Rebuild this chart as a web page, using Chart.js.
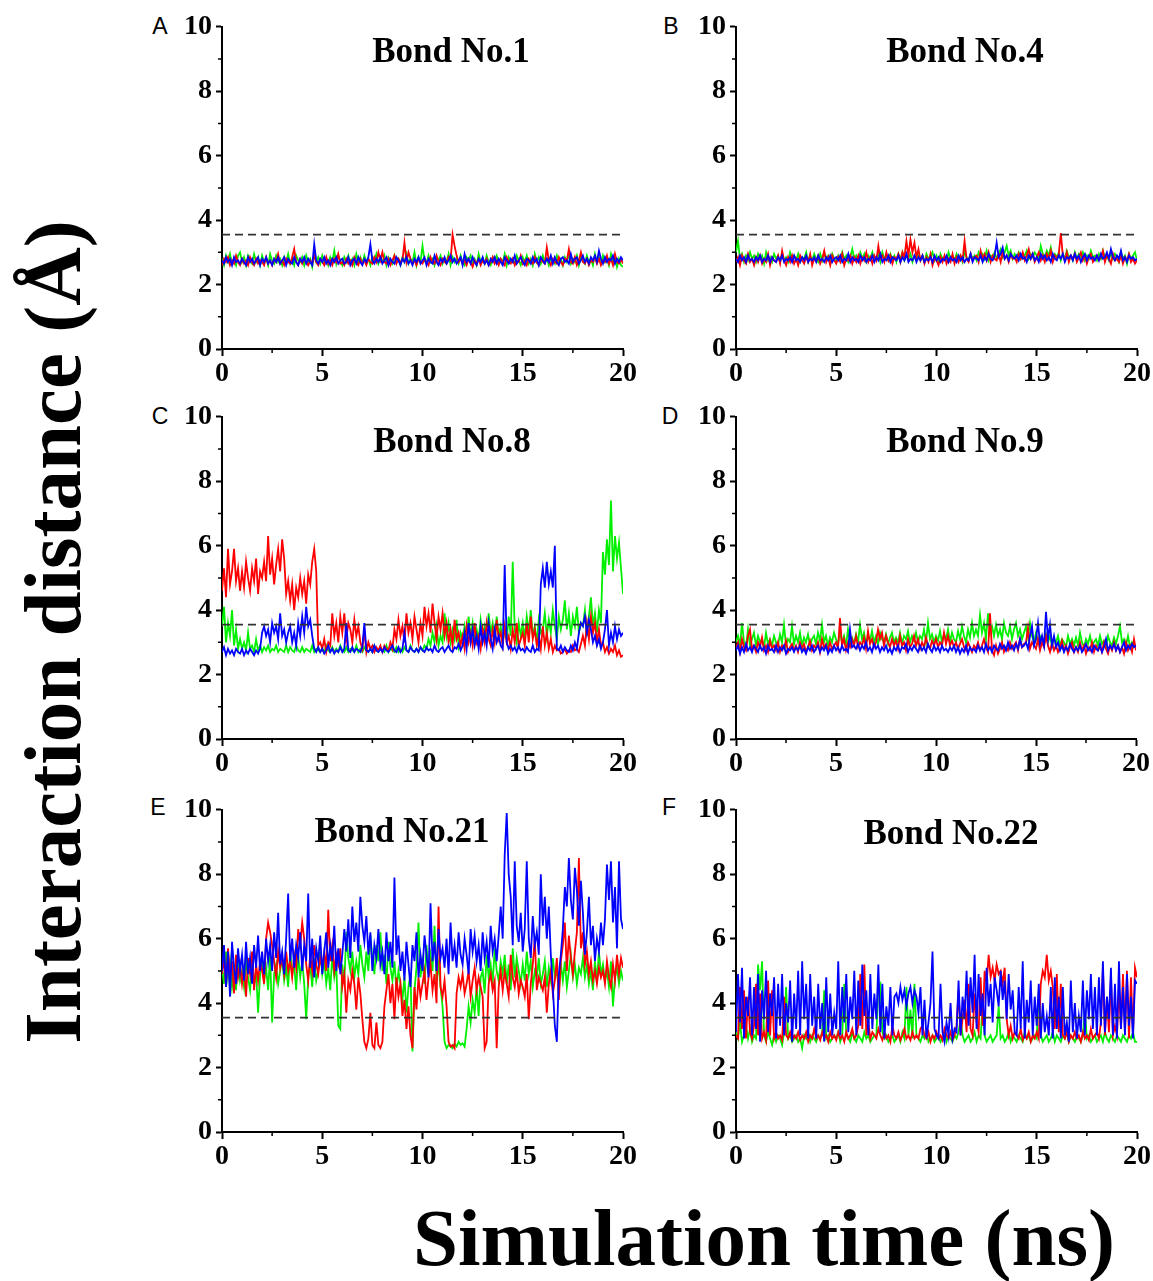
<!DOCTYPE html>
<html><head><meta charset="utf-8">
<script src="https://cdn.jsdelivr.net/npm/chart.js@4.4.1/dist/chart.umd.min.js"></script>
<style>
html,body{margin:0;padding:0;background:#fff;}
body{width:1153px;height:1281px;position:relative;overflow:hidden;}
canvas{position:absolute;}
.letter{position:absolute;font-family:"Liberation Sans",Arial,sans-serif;font-size:23px;line-height:1;transform:translate(-50%,-50%);color:#000;}
.btitle{position:absolute;font-family:"Liberation Serif","Times New Roman",serif;font-weight:bold;font-size:35px;line-height:1;white-space:nowrap;transform:translate(-50%,-50%);color:#000;}
.bigtitle{position:absolute;font-family:"Liberation Serif","Times New Roman",serif;font-weight:bold;font-size:81px;line-height:1;white-space:nowrap;color:#000;}
</style>
</head><body>
<script>
// ---------- data (one value every 0.1 ns, 0–20 ns) ----------
const TIME_MAX_NS = 20;
const THRESHOLD = 3.55;
const X_TICKS = [0, 5, 10, 15, 20];
const X_MINOR = [2.5, 7.5, 12.5, 17.5];
const Y_TICKS = [0, 2, 4, 6, 8, 10];
const Y_MINOR = [1, 3, 5, 7, 9];
const PANEL_LETTERS = ['A', 'B', 'C', 'D', 'E', 'F'];
const PANEL_TITLES = ['Bond No.1', 'Bond No.4', 'Bond No.8', 'Bond No.9', 'Bond No.21', 'Bond No.22'];
const X_TITLE = 'Simulation time (ns)';
const Y_TITLE = 'Interaction distance (Å)';

// Bond No.1
const A_RED = [2.6,2.8,2.7,2.85,2.6,2.75,2.65,2.9,2.7,2.6, 2.8,2.65,2.75,2.6,2.85,2.7,2.6,2.8,2.65,2.75, 2.7,2.6,2.85,2.65,2.75,2.6,2.8,2.7,2.95,2.65, 2.75,2.6,2.8,2.7,2.65,2.85,3.1,2.7,2.6,2.8, 2.65,2.8,2.7,2.6,2.75,2.65,2.9,2.7,2.6,2.8, 2.7,2.6,2.85,2.65,2.75,2.6,2.8,2.7,2.95,2.65, 2.7,2.6,2.8,2.65,2.75,2.6,2.85,2.7,2.6,2.8, 2.65,2.75,2.6,2.8,2.7,2.65,2.85,2.7,3.0,2.75, 3.0,2.7,2.65,2.8,2.6,2.75,2.9,2.65,2.8,2.7, 2.75,3.3,2.7,3.0,2.8,2.65,2.75,2.6,2.8,2.7, 2.65,2.8,2.7,2.6,2.85,2.7,2.65,2.9,2.7,2.6, 2.8,2.7,2.65,2.85,2.75,3.55,3.2,2.9,2.7,2.8, 2.65,2.75,2.6,2.8,2.7,2.55,2.75,2.65,2.8,2.6, 2.75,2.65,2.8,2.6,2.7,2.85,2.65,2.75,2.6,2.8, 2.7,2.6,2.85,2.7,2.65,2.8,2.6,2.75,2.7,2.9, 2.65,2.75,2.6,2.8,2.7,2.65,2.85,2.7,2.6,2.8, 2.7,2.65,3.15,2.75,2.6,2.8,2.7,2.65,2.85,2.7, 2.6,2.8,2.75,3.1,2.7,2.65,2.85,2.6,2.75,3.0, 2.7,2.65,2.8,2.6,2.75,2.7,2.85,2.65,2.8,2.6, 2.75,2.7,2.9,2.65,2.8,2.6,2.95,2.7,2.65,2.8, 2.65];
const A_GREEN = [2.8,2.6,2.9,2.7,2.95,2.65,2.8,2.6,2.9,3.0, 2.7,2.85,2.6,2.9,2.75,2.65,2.95,2.7,2.85,2.6, 2.9,2.7,2.8,2.6,2.95,2.75,2.65,2.9,2.7,2.8, 2.6,2.85,2.7,2.95,2.65,2.8,2.6,2.9,2.75,2.7, 2.85,2.6,2.9,2.7,2.8,2.55,2.95,2.7,2.85,2.65, 2.9,2.7,2.8,2.6,2.85,2.7,3.05,2.65,2.9,2.75, 2.6,2.85,2.7,2.9,2.65,2.8,2.6,2.95,2.7,2.85, 2.65,2.9,2.7,2.8,2.6,2.85,2.75,2.95,2.65,2.8, 2.7,2.9,2.6,2.85,2.75,2.65,2.9,2.7,2.8,2.6, 2.85,2.7,2.95,2.65,2.8,2.7,3.0,2.6,2.85,2.7, 3.2,2.75,2.65,2.9,2.7,2.8,2.6,2.85,2.75,2.9, 2.65,2.8,2.7,2.95,2.6,2.85,2.7,2.8,2.65,2.9, 2.7,2.6,2.85,2.75,2.9,2.65,2.8,2.6,2.95,2.7, 2.8,2.65,2.9,2.7,2.6,2.85,2.75,2.9,2.65,2.8, 2.7,2.95,2.6,2.85,2.7,2.8,2.65,2.9,2.75,2.6, 2.85,2.7,2.9,2.65,2.8,2.6,2.95,2.7,2.85,2.65, 2.9,2.7,2.8,2.6,2.85,2.75,2.65,2.9,2.7,2.8, 2.6,2.85,2.7,2.95,2.65,2.8,2.7,2.9,2.6,2.85, 2.75,2.65,2.9,2.7,2.8,2.6,2.95,2.7,2.85,2.65, 2.9,2.7,2.8,2.6,2.95,2.7,2.85,2.55,2.8,2.6, 2.55];
const A_BLUE = [2.75,2.65,2.85,2.7,2.8,2.6,2.85,2.7,2.75,2.65, 2.8,2.7,2.6,2.85,2.7,2.8,2.65,2.75,2.85,2.6, 2.8,2.7,2.85,2.65,2.75,2.6,2.8,2.7,2.85,2.65, 2.75,2.85,2.6,2.8,2.7,2.65,2.85,2.7,2.6,2.8, 2.7,2.85,2.65,2.8,2.7,2.6,3.25,2.75,2.65,2.8, 2.7,2.85,2.65,2.75,2.6,2.8,2.7,2.85,2.65,2.75, 2.8,2.65,2.7,2.85,2.6,2.75,2.8,2.65,2.85,2.7, 2.6,2.8,2.7,2.85,3.25,2.75,2.65,2.8,2.7,2.85, 2.65,2.75,2.85,2.6,2.8,2.7,2.65,2.85,2.75,2.6, 2.8,2.7,2.85,2.65,2.75,2.6,2.8,2.7,2.85,2.65, 2.75,2.85,2.6,2.8,2.7,2.65,2.9,2.7,2.6,2.8, 2.7,2.85,2.65,2.75,2.9,2.7,2.8,2.65,2.75,2.85, 2.6,2.95,2.7,2.8,2.65,2.85,2.7,2.6,2.8,2.7, 2.85,2.65,2.75,2.6,2.8,2.7,2.85,2.65,2.8,2.7, 2.6,2.85,2.75,2.65,2.8,2.7,2.9,2.65,2.75,2.85, 2.7,2.6,2.8,2.75,2.65,2.85,2.7,2.8,2.6,2.85, 2.75,2.65,2.8,2.7,2.9,2.65,2.85,2.7,2.6,2.8, 2.85,2.7,2.75,2.65,2.95,2.7,2.8,2.85,2.65,2.75, 2.9,2.7,2.8,2.65,2.85,2.75,2.9,2.7,3.05,2.8, 2.65,2.85,2.7,2.8,2.75,2.9,2.65,2.8,2.7,2.85, 2.75];

// Bond No.4
const B_RED = [2.7,2.85,2.6,2.9,2.75,2.65,2.95,2.7,2.8,2.6, 2.85,2.7,2.9,2.65,2.8,2.7,2.95,2.6,2.85,2.75, 2.7,2.9,2.65,3.05,2.75,2.6,2.85,2.7,2.9,2.65, 2.8,2.6,2.9,2.75,2.65,2.85,2.7,2.95,2.6,2.8, 2.75,2.9,2.65,2.8,3.05,2.7,2.85,2.6,2.9,2.75, 2.65,2.85,2.7,2.95,2.6,2.8,2.75,2.9,2.65,2.85, 2.7,2.9,2.65,2.85,2.75,3.0,2.7,2.85,2.65,2.9, 2.75,3.2,2.8,2.9,2.7,3.0,2.75,2.9,2.65,2.85, 2.8,2.95,2.7,3.0,2.85,3.35,2.9,3.4,3.0,3.3, 2.85,3.1,2.75,2.9,2.65,2.85,2.7,2.95,2.6,2.8, 2.75,2.6,2.85,2.7,2.9,2.65,2.8,2.7,2.95,2.65, 2.85,2.7,2.9,2.75,3.35,2.8,2.7,2.95,2.75,2.85, 2.9,2.7,3.05,2.8,2.95,2.75,3.0,2.7,2.9,2.8, 2.75,2.95,2.7,3.0,2.8,2.9,2.7,2.95,2.8,2.85, 2.7,2.95,2.8,3.0,2.75,2.9,3.1,2.8,2.95,2.7, 2.85,3.0,2.75,2.9,2.7,2.95,2.8,3.05,2.7,2.9, 2.8,2.95,3.6,2.9,2.75,3.0,2.7,2.9,2.8,2.95, 2.7,2.85,3.0,2.75,2.9,2.65,2.85,2.95,2.7,2.8, 2.9,2.75,2.85,3.05,2.7,2.9,2.8,2.65,2.95,2.75, 2.8,2.7,2.9,2.65,2.85,2.75,2.95,2.7,2.8,2.65, 2.75];
const B_GREEN = [3.0,3.35,2.8,2.95,2.7,2.9,2.75,3.0,2.8,2.9, 2.7,2.95,2.8,2.9,2.65,3.0,2.75,2.85,2.7,2.95, 2.8,2.9,2.7,2.95,2.75,2.85,2.7,3.0,2.8,2.9, 2.75,2.95,2.7,2.85,2.8,3.0,2.7,2.9,2.75,2.95, 2.8,2.7,2.95,2.75,3.0,2.8,2.9,2.7,2.95,2.8, 2.7,2.9,2.75,3.0,2.8,2.9,2.7,2.85,3.1,2.8, 2.9,2.75,3.0,2.8,2.95,2.7,2.9,2.8,3.0,2.75, 2.85,2.95,2.7,3.0,2.8,2.9,2.75,2.95,2.8,2.9, 2.7,2.95,2.8,3.0,2.75,2.9,2.8,2.95,2.7,2.9, 2.8,3.0,2.75,2.9,2.7,2.95,2.8,2.85,3.0,2.75, 2.9,2.7,2.95,2.8,2.85,2.7,3.0,2.8,2.9,2.75, 2.95,2.8,2.9,2.7,3.0,2.85,2.75,2.95,2.8,2.9, 2.75,3.0,2.85,2.95,2.8,3.05,2.75,2.9,2.85,3.0, 2.8,2.95,3.1,2.85,3.0,3.2,2.9,3.05,2.8,2.95, 2.85,3.0,2.8,2.95,2.9,3.05,2.8,2.95,2.85,3.0, 2.9,2.8,3.2,2.95,2.85,3.05,2.9,3.15,2.8,2.95, 2.85,3.0,2.75,2.95,2.8,3.05,2.85,2.9,2.75,3.0, 2.8,2.95,2.85,3.0,2.75,2.9,2.8,3.05,2.85,2.9, 2.75,2.95,2.8,3.05,2.85,2.9,2.75,3.0,2.8,2.95, 2.85,2.7,3.0,2.8,2.9,2.65,2.95,2.8,2.9,3.0, 2.75];
const B_BLUE = [2.8,2.7,2.9,2.75,2.85,2.7,2.9,2.75,2.8,2.7, 2.85,2.75,2.9,2.7,2.8,2.75,2.9,2.7,2.85,2.75, 2.7,2.85,2.75,2.9,2.7,2.8,2.75,2.85,2.7,2.9, 2.75,2.8,2.7,2.85,2.75,2.9,2.7,2.8,2.75,2.85, 2.7,2.9,2.75,2.8,2.7,2.85,2.75,2.9,2.7,2.8, 2.85,2.75,2.9,2.7,2.8,2.75,2.95,2.7,2.85,2.75, 2.8,2.7,2.9,2.75,2.85,2.7,2.8,2.75,2.9,2.7, 2.85,2.75,2.95,2.7,2.8,2.75,2.9,2.7,2.85,2.8, 2.75,2.9,2.7,2.85,2.75,2.95,2.7,2.8,2.75,2.9, 2.7,2.85,2.75,2.9,2.7,2.8,2.75,2.85,2.7,2.9, 2.75,2.85,2.7,2.8,2.75,2.9,2.7,2.85,2.75,2.8, 2.7,2.9,2.75,2.85,2.7,2.8,2.75,2.95,2.7,2.85, 2.8,2.75,2.9,2.7,2.85,2.75,2.95,2.8,2.75,2.9, 3.3,2.85,2.95,3.15,2.8,2.9,2.75,2.95,2.85,2.8, 2.9,2.75,2.95,2.8,2.85,2.7,2.9,2.8,2.95,2.75, 2.85,2.7,2.95,2.8,2.9,2.75,2.85,2.7,2.95,2.8, 2.75,2.9,2.8,2.95,2.7,2.85,2.8,2.9,2.75,2.95, 2.8,2.9,2.7,2.85,2.95,2.75,2.9,2.8,2.85,2.75, 2.9,2.75,2.95,2.8,2.85,3.0,2.8,3.1,2.85,2.75, 2.9,2.8,3.05,2.75,2.85,2.7,2.9,2.8,2.85,2.75, 2.8];

// Bond No.8
const C_RED = [4.6,5.3,4.4,5.9,4.8,5.2,5.9,4.9,5.3,4.6, 5.2,4.7,5.5,5.0,4.6,5.3,4.9,5.6,4.5,5.2, 5.0,5.5,4.9,6.3,5.1,5.6,4.8,5.4,5.9,5.2, 6.2,5.6,4.5,4.9,4.3,4.8,4.0,4.7,4.4,5.0, 4.5,4.9,4.2,5.1,4.8,5.5,5.9,5.2,2.9,3.0, 2.8,3.1,2.7,3.0,2.9,3.9,3.2,3.6,3.0,3.8, 3.3,3.9,3.1,3.6,3.4,3.0,3.7,3.2,3.5,3.0, 2.8,3.4,2.7,3.0,2.8,2.9,2.7,2.85,2.75,2.9, 2.7,2.9,2.8,2.75,3.0,2.8,3.4,3.1,3.7,3.2, 3.5,3.0,3.9,3.3,3.6,3.1,3.8,3.4,3.0,3.6, 3.2,4.1,3.5,3.9,3.3,4.2,3.6,3.1,3.8,3.4, 3.9,3.2,3.6,3.0,3.4,2.9,3.7,3.1,3.3,2.9, 3.2,2.8,3.5,3.0,3.3,2.9,3.6,3.0,3.2,2.8, 3.4,3.0,3.6,3.1,2.9,3.4,3.0,3.7,3.1,3.3, 2.9,3.5,3.0,3.2,2.8,3.4,3.0,3.6,2.9,3.1, 3.3,2.9,3.6,3.0,3.8,3.1,3.4,2.9,3.2,2.8, 3.5,2.9,3.3,2.8,3.1,2.7,2.9,2.75,2.8,2.65, 2.7,2.8,2.65,2.75,2.7,2.9,2.75,2.8,2.7,2.95, 3.2,2.9,3.6,3.1,3.8,3.3,3.6,3.0,3.4,2.9, 3.0,2.7,2.85,2.65,2.8,2.7,2.9,2.6,2.75,2.55, 2.6];
const C_GREEN = [3.5,4.1,3.0,3.6,3.2,4.0,2.9,3.4,2.8,3.1, 2.8,3.0,2.75,3.3,2.8,2.9,2.7,3.1,2.75,2.9, 2.7,2.85,2.75,2.9,2.7,2.8,2.75,2.9,2.7,2.8, 2.75,2.7,2.9,2.7,2.85,2.75,2.7,2.9,2.75,2.7, 2.85,2.7,2.8,2.75,2.7,2.9,2.7,2.8,2.75,2.7, 2.8,2.7,2.9,2.75,2.7,2.85,2.7,2.8,2.7,2.9, 2.75,2.7,2.85,2.7,2.8,2.75,2.7,2.9,2.7,2.8, 2.7,2.85,2.75,2.7,2.8,2.7,2.9,2.75,2.7,2.8, 2.75,2.7,2.9,2.7,2.8,2.75,2.7,2.85,2.7,2.8, 2.7,2.85,2.75,2.7,2.9,2.75,2.7,2.8,2.7,2.85, 2.75,2.9,2.8,3.1,2.9,3.3,3.0,3.5,2.9,3.2, 3.0,3.9,3.2,3.6,3.0,3.4,3.1,3.7,2.9,3.3, 3.1,3.5,3.0,3.8,3.2,3.6,3.0,3.4,3.1,3.7, 3.2,3.5,3.0,3.9,3.3,3.6,3.1,3.8,3.2,3.5, 3.0,3.4,3.1,3.8,3.2,5.5,3.4,3.0,3.6,3.2, 3.6,3.1,3.8,3.3,4.0,3.2,3.5,3.0,3.7,3.3, 3.4,3.9,3.2,3.7,3.3,4.0,3.5,3.1,3.8,3.4, 3.7,4.3,3.4,3.9,3.2,3.8,3.5,4.1,3.3,3.6, 3.5,4.0,3.2,3.8,4.4,3.5,3.9,3.3,4.0,3.6, 5.8,5.1,6.2,5.4,7.4,5.2,6.3,5.6,6.1,5.3, 4.5];
const C_BLUE = [2.7,2.85,2.6,2.8,2.65,2.75,2.6,2.8,2.7,2.65, 2.8,2.6,2.75,2.65,2.8,2.7,2.6,2.75,2.65,2.8, 3.3,3.5,3.2,3.4,3.0,3.6,3.3,3.5,3.1,3.9, 3.2,3.4,3.0,3.3,3.5,3.0,3.3,2.9,3.6,3.2, 3.8,3.3,4.1,3.5,3.7,3.2,2.8,2.7,2.85,2.7, 2.8,2.65,2.75,2.9,2.7,2.8,2.65,2.75,2.7,2.85, 2.7,2.8,3.6,2.75,2.7,2.85,2.7,2.8,2.75,2.7, 2.85,3.6,2.75,2.7,2.8,2.7,2.9,2.75,2.7,2.8, 2.7,2.85,2.75,2.7,2.8,2.9,2.75,2.7,2.85,2.7, 2.8,3.3,2.75,2.7,2.85,2.75,2.7,2.8,2.7,2.85, 2.75,2.7,2.85,2.75,2.8,2.7,2.9,2.75,2.7,2.8, 2.85,2.7,2.8,2.9,2.75,2.7,2.85,2.8,2.95,2.75, 2.9,3.3,2.8,3.6,3.0,3.4,2.9,3.2,2.8,3.5, 3.0,3.3,2.9,3.6,3.1,2.8,3.4,3.0,3.2,2.9, 2.8,5.4,3.0,2.8,2.9,2.75,2.85,2.7,2.9,2.75, 2.8,2.7,2.85,2.75,2.7,2.9,2.7,2.8,2.75,4.8, 5.3,4.7,5.5,4.8,5.2,4.7,6.0,2.8,2.75,2.9, 2.7,2.85,2.75,2.7,2.9,2.75,3.0,2.8,3.3,3.6, 3.5,3.8,3.3,3.7,3.4,3.0,3.2,2.9,3.1,2.8, 3.0,3.4,4.0,2.9,3.3,3.0,3.5,3.1,3.4,3.2, 3.3];

// Bond No.9
const D_RED = [2.8,3.0,2.7,3.1,2.85,2.75,3.2,3.4,2.8,2.9, 2.7,3.0,2.85,3.15,2.75,2.9,2.7,3.05,2.8,2.9, 2.75,3.0,2.7,2.9,2.8,3.05,2.7,2.85,2.95,2.75, 2.9,2.7,3.0,2.8,2.95,2.7,2.85,3.05,2.75,2.9, 2.8,3.0,2.7,3.1,2.85,2.95,2.75,3.0,2.8,2.9, 3.0,2.8,3.75,2.9,3.1,2.75,3.0,2.85,3.1,2.9, 3.2,2.85,3.0,2.9,3.15,2.8,3.35,2.95,3.1,2.85, 3.0,3.4,3.1,3.3,2.9,3.2,3.0,2.85,3.1,2.9, 3.05,2.8,3.2,2.9,3.0,2.75,3.1,2.85,2.95,3.2, 2.9,3.1,2.8,3.0,2.85,3.15,2.9,2.8,3.05,2.9, 3.1,2.85,3.0,2.9,3.3,2.95,3.2,2.9,3.05,2.85, 3.0,2.8,2.95,3.1,2.85,2.75,3.0,2.85,2.7,2.9, 2.8,3.0,2.75,2.9,3.1,2.85,2.7,3.9,2.75,2.6, 2.9,2.65,2.8,3.0,2.7,2.85,2.75,3.0,2.8,2.9, 3.0,2.75,3.1,2.85,2.95,3.0,3.45,2.8,3.0,2.9, 2.8,3.1,2.75,3.0,2.85,3.2,2.9,2.7,3.0,2.75, 2.9,2.7,2.85,3.05,2.75,2.9,2.65,2.85,3.0,2.7, 2.85,2.7,3.0,2.75,2.9,2.65,2.85,2.75,3.0,2.7, 2.9,2.75,2.85,2.7,3.0,2.8,2.65,2.9,2.75,3.0, 2.75,2.9,2.7,2.85,2.65,3.0,2.75,2.9,2.7,3.1, 2.75];
const D_GREEN = [3.0,3.2,2.9,3.6,3.0,2.85,3.4,2.9,3.1,3.3, 2.9,3.2,3.0,3.1,2.85,3.3,2.95,3.1,2.9,3.2, 3.0,2.9,3.25,3.0,3.55,2.9,3.1,3.0,3.5,2.95, 3.2,3.0,3.3,2.9,3.15,3.0,3.25,2.9,3.1,3.2, 2.95,3.3,3.05,3.55,3.0,3.2,2.9,3.15,3.0,3.3, 3.1,2.95,3.3,3.0,3.2,2.9,3.4,3.0,3.15,2.95, 3.25,3.0,3.55,3.1,3.3,2.95,3.2,3.05,3.35,3.0, 3.2,2.95,3.3,3.1,3.0,3.25,2.95,3.15,3.3,3.0, 3.15,3.0,3.3,2.95,3.2,3.1,3.35,3.0,3.2,3.05, 3.3,3.0,3.2,3.1,3.4,3.0,3.6,3.1,3.25,3.0, 3.2,3.05,3.35,3.0,3.25,3.1,3.4,3.0,3.3,3.1, 3.0,3.35,3.1,3.5,3.2,3.0,3.4,3.15,3.6,3.2, 3.4,3.2,3.85,3.3,3.6,3.1,3.9,3.3,3.5,3.2, 3.55,3.2,3.4,3.1,3.6,3.3,3.2,3.5,3.1,3.4, 3.6,3.2,3.4,3.1,3.3,3.5,3.15,3.6,3.2,3.0, 3.3,3.0,3.2,3.1,2.9,3.25,3.0,3.2,2.9,3.1, 3.0,3.2,2.9,3.1,3.0,2.85,3.2,2.95,3.1,2.9, 3.15,2.9,3.3,3.0,2.85,3.1,2.95,3.2,2.9,3.0, 3.1,2.9,3.2,2.95,3.05,2.85,3.2,3.0,2.9,3.15, 2.95,3.2,3.5,3.0,3.1,2.9,3.2,2.85,3.0,2.9, 2.85];
const D_BLUE = [2.75,2.9,2.65,2.85,2.7,2.95,2.75,2.85,2.7,2.9, 2.8,2.7,2.9,2.75,2.85,2.65,2.9,2.75,2.8,2.7, 2.9,2.7,2.85,2.75,2.9,2.65,2.8,2.75,2.85,2.7, 2.85,2.75,2.9,2.7,2.8,2.65,2.85,2.75,2.9,2.7, 2.8,2.9,2.7,2.85,2.75,2.9,2.65,2.8,2.7,2.9, 2.75,2.85,2.7,2.9,2.75,2.8,2.7,3.4,2.85,2.9, 2.8,2.95,2.75,2.9,2.8,3.0,2.75,2.85,2.7,2.95, 2.8,2.9,2.7,2.85,2.75,2.9,2.7,2.8,2.65,2.85, 2.75,2.9,2.7,2.85,2.8,2.95,2.7,2.85,2.75,2.9, 2.8,2.7,2.9,2.75,2.85,2.7,2.95,2.8,2.7,2.9, 2.75,2.85,2.7,2.9,2.75,2.8,2.7,2.85,2.75,2.9, 2.7,2.85,2.65,2.8,2.7,2.9,2.65,2.85,2.75,2.8, 2.7,2.9,2.75,2.85,2.7,2.95,2.75,2.85,2.7,2.9, 2.8,2.75,2.95,2.8,2.9,2.75,3.0,2.8,2.9,2.75, 2.95,2.8,3.1,2.85,2.9,3.0,2.8,3.2,3.5,2.9, 3.1,3.6,2.95,3.2,2.9,3.95,3.1,3.55,2.9,3.2, 2.85,3.0,2.75,2.9,2.7,2.85,2.75,2.95,2.8,2.7, 2.85,2.75,2.9,2.7,2.8,2.95,2.75,2.85,2.7,2.9, 2.8,2.75,2.95,2.7,2.85,3.1,2.75,2.9,2.8,2.95, 2.75,2.9,2.7,2.85,3.0,2.75,2.9,2.8,2.95,2.85, 2.9];

// Bond No.21
const E_RED = [4.9,5.4,4.5,5.7,4.8,5.3,4.3,5.5,4.8,5.2, 4.6,5.1,4.2,5.4,4.9,5.6,4.4,5.2,4.7,5.3, 5.0,4.6,6.0,6.5,6.2,5.8,5.3,4.8,5.6,5.1, 5.4,4.9,5.6,5.0,5.3,4.8,5.5,5.1,6.3,5.8, 6.5,6.0,5.2,4.7,5.5,5.0,5.8,5.2,4.9,5.4, 5.1,5.6,5.0,6.9,5.3,5.8,5.0,5.5,5.2,5.7, 4.5,4.9,3.7,4.7,4.4,5.0,4.6,3.8,4.8,4.3, 3.5,2.8,2.6,2.9,3.7,2.7,2.6,3.4,2.7,2.6, 2.8,3.9,4.4,4.9,4.0,4.6,3.5,4.8,4.2,4.6, 3.6,4.1,3.2,3.9,3.0,2.6,4.5,3.8,4.8,4.2, 4.6,5.0,4.1,4.8,5.2,4.4,4.9,4.0,7.0,4.5, 4.2,4.7,3.9,2.8,2.65,2.7,2.6,4.3,4.8,4.5, 4.9,4.3,4.6,5.0,4.2,4.7,5.1,4.4,4.8,4.5, 4.2,2.6,2.8,4.6,4.9,4.4,4.7,2.6,4.5,5.0, 4.4,5.0,4.6,4.2,5.5,4.8,4.5,5.0,4.3,4.7, 4.5,4.2,4.9,3.5,4.6,5.2,6.0,4.4,4.8,4.6, 4.4,4.8,3.7,4.6,5.0,4.3,4.7,5.4,4.1,5.3, 5.8,6.5,5.0,6.1,5.4,4.9,5.6,6.2,8.5,5.7, 6.2,5.2,5.6,4.9,5.3,4.7,5.0,4.6,5.1,4.8, 5.0,4.6,5.3,4.8,4.5,5.2,4.7,5.5,4.9,5.4, 5.1];
const E_GREEN = [5.1,4.6,5.6,4.8,5.3,4.5,5.0,4.4,5.4,4.7, 5.0,4.5,5.3,4.8,4.4,5.2,4.6,5.0,3.7,4.9, 5.3,4.7,5.1,4.4,5.5,3.4,4.9,5.2,4.6,5.0, 5.4,4.7,5.1,4.5,5.6,4.9,5.2,4.4,5.5,4.8, 5.3,4.6,3.5,4.8,5.2,4.5,5.4,4.7,5.0,5.6, 4.9,5.3,4.6,5.1,4.4,5.5,4.8,5.2,3.3,3.2, 5.2,4.6,6.2,5.4,5.0,5.6,4.8,5.3,4.9,5.8, 5.2,4.8,5.6,5.0,6.1,5.4,4.9,5.8,5.3,6.2, 5.0,5.5,4.6,5.9,5.1,4.7,5.3,4.4,5.0,4.6, 4.1,4.8,3.7,4.5,4.9,2.5,4.4,5.1,6.5,4.8, 5.3,4.6,5.8,4.9,5.5,5.0,6.4,4.7,5.2,4.5, 3.9,2.8,2.6,2.7,2.65,2.6,2.75,2.65,2.8,2.7, 2.75,2.65,3.2,3.9,3.4,4.1,3.7,4.5,3.6,4.8, 5.0,4.3,5.5,4.8,5.2,4.6,5.7,5.0,4.7,5.3, 4.9,5.5,4.6,5.2,4.4,5.7,4.8,5.4,5.0,4.6, 5.2,4.7,5.6,4.9,5.3,4.5,5.0,4.8,5.4,4.6, 4.9,5.3,4.5,5.1,4.7,5.4,4.8,5.0,4.4,5.2, 4.7,5.3,4.5,5.0,5.5,4.8,5.2,4.6,5.1,4.9, 5.4,4.8,5.2,4.6,5.0,4.4,5.3,4.7,5.6,4.9, 5.2,4.7,5.0,4.5,5.3,3.9,4.8,5.1,4.6,5.0, 4.7];
const E_BLUE = [5.0,5.8,4.5,5.6,4.2,5.9,5.1,4.6,5.7,5.0, 5.5,4.7,5.9,4.9,5.4,4.6,5.8,5.1,6.1,5.0, 5.6,4.9,6.0,5.3,5.8,5.0,6.2,5.4,6.8,5.2, 5.6,4.9,6.0,7.4,5.3,6.0,5.1,5.8,5.4,6.2, 5.0,5.8,5.3,7.4,5.1,6.0,4.8,5.7,5.3,6.1, 4.9,5.6,6.2,5.1,5.8,5.3,6.4,5.0,5.7,4.9, 5.5,6.3,5.6,6.6,5.4,7.0,5.9,6.5,5.6,7.3, 6.4,5.9,6.7,5.5,6.2,5.0,5.8,5.4,6.3,5.2, 5.6,4.9,6.2,5.3,5.9,5.1,7.9,5.5,6.1,5.0, 5.6,4.7,5.9,5.2,4.5,5.8,5.3,6.2,4.8,5.5, 5.0,6.1,5.5,4.8,7.1,5.3,5.9,5.0,6.3,5.4, 5.7,5.1,6.0,4.9,6.5,5.3,5.8,5.1,6.2,5.5, 5.2,6.0,5.5,4.9,6.3,5.6,6.1,5.3,5.8,5.0, 6.2,5.4,5.9,5.1,6.4,5.6,6.0,5.3,6.1,7.0, 6.0,8.6,9.9,8.0,7.3,5.8,8.4,6.4,5.9,6.8, 5.6,6.3,8.4,6.0,5.4,6.7,5.8,6.2,5.5,8.0, 6.4,7.3,6.0,7.0,5.5,4.5,3.3,2.8,4.9,5.5, 6.3,7.6,7.0,8.5,7.2,6.6,8.2,7.5,6.4,7.8, 6.8,5.5,6.2,7.3,5.8,6.4,5.3,6.0,5.6,6.5, 5.8,6.6,8.3,7.2,8.4,6.5,7.6,5.7,8.4,6.6, 6.3];

// Bond No.22
const F_RED = [3.0,2.9,4.5,3.2,4.4,2.9,4.2,3.1,2.9,3.3, 4.6,3.0,4.3,2.9,3.1,2.85,4.7,3.0,4.4,2.9, 3.1,2.9,3.0,2.85,4.2,3.0,2.9,3.1,2.85,3.0, 2.9,3.1,2.85,3.0,2.9,3.1,2.8,3.0,2.9,3.2, 2.9,3.0,2.85,3.1,2.9,3.0,2.8,3.1,2.9,3.0, 2.85,3.1,2.9,3.0,2.8,3.1,2.9,3.0,3.2,2.9, 3.0,3.3,4.9,3.2,5.2,3.0,3.4,2.9,3.1,3.0, 2.9,3.2,3.0,2.85,3.1,2.9,3.0,2.8,3.3,3.0, 2.9,3.1,2.85,3.0,3.2,2.9,3.0,2.85,3.1,2.9, 3.0,2.9,3.2,3.3,3.0,2.9,3.1,2.8,3.0,2.9, 3.1,2.9,3.0,2.85,3.2,3.0,2.9,3.1,2.85,3.0, 3.3,4.4,3.0,3.5,4.1,3.1,4.6,3.2,3.0,4.3, 3.4,3.1,4.8,3.3,5.0,4.6,5.5,4.8,5.1,4.7, 5.2,4.9,5.0,4.6,5.1,3.5,3.0,3.3,2.9,3.1, 3.0,2.9,3.2,2.85,3.0,2.9,3.1,2.8,3.0,2.9, 3.1,2.9,4.6,5.0,4.8,5.5,4.7,5.0,4.5,3.2, 4.9,3.1,4.6,3.0,2.9,3.1,2.8,3.0,2.9,3.1, 2.9,3.0,2.8,3.1,2.9,3.0,2.85,3.2,2.9,3.0, 3.1,2.9,3.4,5.1,3.0,4.2,3.1,4.8,3.0,3.3, 3.0,4.5,3.2,4.9,3.1,5.0,2.9,4.8,3.0,5.1, 4.8];
const F_GREEN = [3.1,2.9,3.4,2.8,3.0,3.3,2.9,3.2,2.8,3.0, 2.9,5.2,4.4,5.3,3.0,2.8,3.1,2.9,2.7,3.0, 2.8,3.0,2.9,2.7,3.1,4.5,2.9,3.0,2.8,2.9, 3.0,2.8,2.9,2.6,3.0,2.9,3.1,2.8,3.0,2.9, 2.8,3.0,2.9,3.1,4.4,2.9,3.0,2.8,2.9,3.0, 2.9,3.1,2.8,3.0,4.6,3.0,2.9,2.8,3.1,2.9, 2.8,3.0,2.9,2.8,3.1,2.9,3.0,2.8,2.9,3.0, 3.0,4.5,4.6,3.1,2.9,3.0,2.8,2.9,3.0,2.8, 2.9,3.0,2.8,3.1,2.9,4.5,3.0,3.8,2.9,4.6, 3.0,2.9,2.8,3.0,2.9,3.1,2.8,2.9,3.0,2.8, 2.9,3.0,2.8,2.9,3.1,2.8,3.0,2.9,2.8,3.0, 2.9,3.1,3.5,3.0,2.8,2.9,3.0,2.8,2.9,3.1, 2.8,3.0,2.9,4.0,3.0,2.8,2.9,3.0,2.8,2.9, 3.0,3.9,2.9,3.0,2.8,2.9,3.1,2.8,3.0,2.9, 2.8,3.0,2.9,2.8,3.1,2.9,3.0,2.8,2.9,3.0, 2.9,4.4,3.0,2.8,2.9,3.0,2.8,2.9,3.1,2.8, 3.0,2.9,2.8,3.0,2.9,3.1,2.8,3.0,2.9,2.8, 3.0,2.9,2.8,3.0,3.8,2.9,3.0,2.8,2.9,3.0, 2.8,2.9,3.0,2.8,3.1,2.9,2.8,3.0,2.9,2.8, 3.0,2.9,2.8,3.0,2.9,2.8,3.0,2.9,3.1,2.8, 2.8];
const F_BLUE = [3.1,4.9,3.4,5.1,2.9,4.2,3.6,4.8,3.0,4.5, 3.2,4.9,2.8,4.4,3.5,5.0,3.1,4.3,3.6,4.8, 2.9,4.6,3.3,4.9,3.0,4.0,3.4,4.7,2.8,4.3, 3.2,5.0,3.0,5.3,3.5,4.6,2.9,4.9,3.3,4.2, 2.9,4.6,3.2,4.0,2.8,4.8,3.1,4.3,3.0,3.7, 3.2,5.3,3.0,4.5,3.4,4.9,3.1,4.2,3.5,5.0, 3.0,4.7,3.3,5.2,3.6,4.4,3.0,4.9,3.2,4.3, 3.5,5.2,3.1,4.6,2.9,3.9,3.3,4.5,3.0,4.2, 4.3,4.0,4.5,4.1,4.4,3.9,4.3,4.5,4.0,4.4, 4.2,3.7,4.5,3.0,4.1,2.9,3.4,4.0,5.6,3.2, 3.0,2.9,4.6,3.1,2.8,3.4,3.0,4.0,2.9,3.2, 3.1,4.7,3.0,4.2,3.5,5.0,3.3,4.8,3.7,5.5, 3.2,4.9,3.6,4.3,3.0,5.1,3.9,4.6,3.4,4.8, 4.4,3.9,5.0,4.1,4.7,3.5,4.9,3.8,4.4,3.1, 3.0,4.5,3.2,5.3,2.9,4.1,3.4,4.7,3.0,4.2, 3.3,4.6,2.9,4.0,3.1,3.6,3.0,4.5,2.9,4.8, 3.2,4.2,2.9,4.5,3.0,3.4,2.8,4.7,3.1,4.0, 2.9,3.6,3.1,4.7,3.0,4.4,3.5,4.9,3.2,4.5, 3.0,4.8,3.3,5.3,3.1,4.2,3.5,5.1,3.0,4.6, 2.9,5.3,3.2,4.5,3.0,4.9,3.3,4.2,2.9,4.7, 4.6];

const PANEL_SERIES = [
  {red: A_RED, green: A_GREEN, blue: A_BLUE},
  {red: B_RED, green: B_GREEN, blue: B_BLUE},
  {red: C_RED, green: C_GREEN, blue: C_BLUE},
  {red: D_RED, green: D_GREEN, blue: D_BLUE},
  {red: E_RED, green: E_GREEN, blue: E_BLUE},
  {red: F_RED, green: F_GREEN, blue: F_BLUE}
];

// ---------- layout (pixel geometry of each plot area) ----------
const PLOT_BOXES = [
  {l:222, r:623, t:26,  b:349},
  {l:736, r:1137, t:26, b:349},
  {l:222, r:623, t:416, b:739},
  {l:736, r:1136, t:416, b:739},
  {l:222, r:623, t:809, b:1132},
  {l:736, r:1137, t:809, b:1132}
];
const LETTER_POS = [[160,26],[671,26],[160,416],[670,416],[158,807],[669,807]];
const TITLE_POS = [[451,50],[965,50],[452,440],[965,440],[402,830],[951,832]];
const Y_AXIS_W = 50, X_AXIS_H = 44, PAD_T = 20, PAD_R = 25;

const COLORS = {red:'#ff0000', green:'#00f000', blue:'#0000ff', dash:'#333333'};
const TICK_FONT = {family:'"Liberation Serif","Times New Roman",serif', weight:'bold', size:28};

const minorTicks = {
  id:'minorTicks',
  afterDraw(chart){
    const {ctx, chartArea, scales:{x, y}} = chart;
    ctx.save();
    ctx.strokeStyle = '#000';
    ctx.lineWidth = 1.5;
    ctx.beginPath();
    X_MINOR.forEach(v => { const p = x.getPixelForValue(v); ctx.moveTo(p, chartArea.bottom); ctx.lineTo(p, chartArea.bottom + 4); });
    Y_MINOR.forEach(v => { const p = y.getPixelForValue(v); ctx.moveTo(chartArea.left, p); ctx.lineTo(chartArea.left - 4, p); });
    ctx.stroke();
    ctx.restore();
  }
};

function toPoints(arr){
  const step = TIME_MAX_NS / (arr.length - 1);
  return arr.map((v, i) => ({x: i * step, y: v}));
}

function makePanel(idx){
  const box = PLOT_BOXES[idx];
  const c = document.createElement('canvas');
  const w = box.r - box.l + Y_AXIS_W + PAD_R;
  const h = box.b - box.t + PAD_T + X_AXIS_H;
  c.width = w; c.height = h;
  c.style.left = (box.l - Y_AXIS_W) + 'px';
  c.style.top = (box.t - PAD_T) + 'px';
  c.style.width = w + 'px'; c.style.height = h + 'px';
  document.body.appendChild(c);
  const s = PANEL_SERIES[idx];
  new Chart(c, {
    type:'line',
    data:{datasets:[
      {data:[{x:0, y:THRESHOLD},{x:TIME_MAX_NS, y:THRESHOLD}], borderColor:COLORS.dash, borderWidth:1.6, borderDash:[8,5]},
      {data:toPoints(s.blue), borderColor:COLORS.blue},
      {data:toPoints(s.red), borderColor:COLORS.red},
      {data:toPoints(s.green), borderColor:COLORS.green}
    ]},
    options:{
      responsive:false, animation:false, devicePixelRatio:1,
      elements:{point:{radius:0}, line:{borderWidth:1.8, tension:0, borderJoinStyle:'miter'}},
      plugins:{legend:{display:false}, tooltip:{enabled:false}, title:{display:false}},
      layout:{padding:{top:PAD_T, right:PAD_R, left:0, bottom:0}},
      scales:{
        x:{type:'linear', min:0, max:TIME_MAX_NS,
           afterBuildTicks: sc => { sc.ticks = X_TICKS.map(v => ({value:v})); },
           afterFit: sc => { sc.height = X_AXIS_H; },
           grid:{display:true, drawOnChartArea:false, drawTicks:true, tickLength:7, tickWidth:2, tickColor:'#000'},
           border:{display:true, color:'#000', width:2},
           ticks:{font:TICK_FONT, color:'#000', padding:1, maxRotation:0, autoSkip:false}},
        y:{type:'linear', min:0, max:10,
           afterBuildTicks: sc => { sc.ticks = Y_TICKS.map(v => ({value:v})); },
           afterFit: sc => { sc.width = Y_AXIS_W; },
           grid:{display:true, drawOnChartArea:false, drawTicks:true, tickLength:6, tickWidth:2, tickColor:'#000'},
           border:{display:true, color:'#000', width:2},
           ticks:{font:TICK_FONT, color:'#000', padding:4, autoSkip:false}}
      }
    },
    plugins:[minorTicks]
  });

  const L = document.createElement('div');
  L.className = 'letter'; L.textContent = PANEL_LETTERS[idx];
  L.style.left = LETTER_POS[idx][0] + 'px'; L.style.top = LETTER_POS[idx][1] + 'px';
  document.body.appendChild(L);

  const T = document.createElement('div');
  T.className = 'btitle'; T.textContent = PANEL_TITLES[idx];
  T.style.left = TITLE_POS[idx][0] + 'px'; T.style.top = TITLE_POS[idx][1] + 'px';
  document.body.appendChild(T);
}

for (let i = 0; i < 6; i++) makePanel(i);

const yt = document.createElement('div');
yt.className = 'bigtitle'; yt.textContent = Y_TITLE;
yt.style.left = '53px'; yt.style.top = '632px';
yt.style.transform = 'translate(-50%,-50%) rotate(-90deg)';
document.body.appendChild(yt);

const xt = document.createElement('div');
xt.className = 'bigtitle'; xt.textContent = X_TITLE;
xt.style.left = '764px'; xt.style.top = '1238px';
xt.style.transform = 'translate(-50%,-50%)';
document.body.appendChild(xt);
</script>
</body></html>
